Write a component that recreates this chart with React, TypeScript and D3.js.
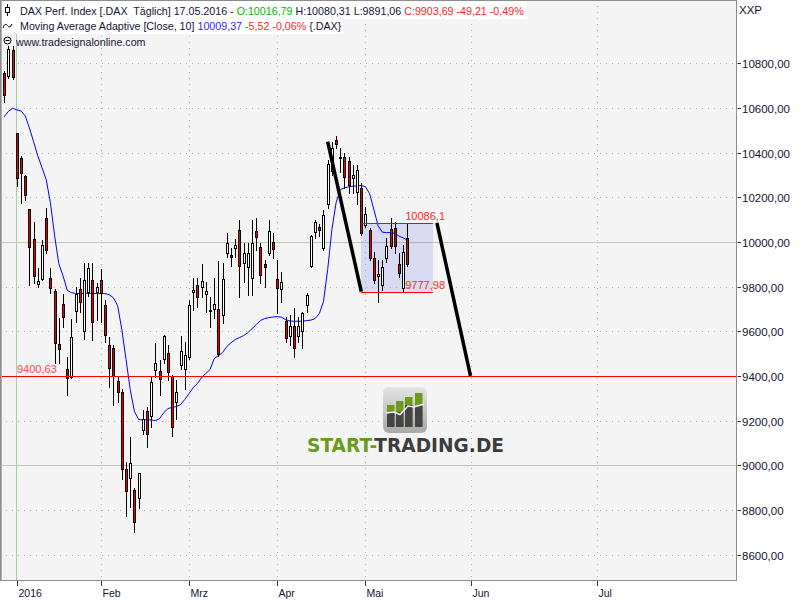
import React, { useEffect, useRef } from 'react'
import * as d3 from 'd3'

// Xetra trading days shown on the chart
const tradingDays = [
	'2015-12-28', '2015-12-29', '2015-12-30',
	'2016-01-04', '2016-01-05', '2016-01-06', '2016-01-07', '2016-01-08', '2016-01-11', '2016-01-12',
	'2016-01-13', '2016-01-14', '2016-01-15', '2016-01-18', '2016-01-19', '2016-01-20', '2016-01-21',
	'2016-01-22', '2016-01-25', '2016-01-26', '2016-01-27', '2016-01-28', '2016-01-29',
	'2016-02-01', '2016-02-02', '2016-02-03', '2016-02-04', '2016-02-05', '2016-02-08', '2016-02-09',
	'2016-02-10', '2016-02-11', '2016-02-12', '2016-02-15', '2016-02-16', '2016-02-17', '2016-02-18',
	'2016-02-19', '2016-02-22', '2016-02-23', '2016-02-24', '2016-02-25', '2016-02-26', '2016-02-29',
	'2016-03-01', '2016-03-02', '2016-03-03', '2016-03-04', '2016-03-07', '2016-03-08', '2016-03-09',
	'2016-03-10', '2016-03-11', '2016-03-14', '2016-03-15', '2016-03-16', '2016-03-17', '2016-03-18',
	'2016-03-21', '2016-03-22', '2016-03-23', '2016-03-24', '2016-03-29', '2016-03-30', '2016-03-31',
	'2016-04-01', '2016-04-04', '2016-04-05', '2016-04-06', '2016-04-07', '2016-04-08', '2016-04-11',
	'2016-04-12', '2016-04-13', '2016-04-14', '2016-04-15', '2016-04-18', '2016-04-19', '2016-04-20',
	'2016-04-21', '2016-04-22', '2016-04-25', '2016-04-26', '2016-04-27', '2016-04-28', '2016-04-29',
	'2016-05-02', '2016-05-03', '2016-05-04', '2016-05-05', '2016-05-06', '2016-05-09', '2016-05-10',
	'2016-05-11', '2016-05-12', '2016-05-13', '2016-05-17',
]

const opens = [
	10757, 10742, 10858,
	10488, 10376, 10294, 10148, 10015, 9812, 9836, 10108, 9840, 9782, 9545, 9723, 9433, 9397, 9690, 9790, 9600, 9776, 9830, 9775,
	9830, 9720, 9540, 9527, 9378, 9326, 8982, 8941, 8887, 8855, 9160, 9245, 9220, 9425, 9424, 9478, 9505, 9398, 9282, 9451, 9430,
	9483, 9777, 9808, 9800, 9768, 9697, 9702, 9700, 9674, 9950, 9940, 9975, 10055, 9907, 9889, 9838, 10050, 9978, 9903, 9952, 10001,
	9835, 9790, 9648, 9580, 9625, 9577, 9600, 9720, 9894, 10046, 10065, 9975, 10171, 10320, 10457, 10380, 10380, 10364, 10287, 10225, 10240,
	10078, 10055, 9930, 9849, 9808, 9930, 10060, 10064, 9903, 9796, 10016.79,
]
const highs = [
	10765, 10880, 10880,
	10488, 10386, 10300, 10150, 10090, 9885, 10010, 10153, 9885, 9790, 9660, 9765, 9487, 9657, 9800, 9840, 9905, 9907, 9905, 9818,
	9880, 9740, 9575, 9540, 9398, 9340, 9013, 9128, 8900, 8967, 9248, 9262, 9397, 9548, 9473, 9585, 9540, 9406, 9384, 9577, 9550,
	9742, 9840, 9840, 9902, 9822, 9755, 9840, 9917, 9907, 10041, 9973, 10015, 10100, 9997, 9997, 10100, 10108, 9997, 9920, 10100, 10041,
	9920, 9866, 9665, 9675, 9705, 9665, 9688, 9772, 10030, 10100, 10082, 10145, 10368, 10450, 10474, 10420, 10400, 10380, 10345, 10345, 10265,
	10157, 10064, 9957, 9920, 9920, 10019, 10108, 10090, 9952, 9987, 10080.31,
]
const lows = [
	10629, 10735, 10730,
	10249, 10175, 10189, 9809, 9818, 9800, 9830, 9950, 9770, 9460, 9460, 9620, 9315, 9390, 9640, 9685, 9565, 9760, 9560, 9650,
	9640, 9550, 9352, 9272, 9285, 8937, 8772, 8815, 8700, 8810, 9138, 9080, 9173, 9397, 9316, 9460, 9384, 9130, 9205, 9429, 9340,
	9475, 9697, 9710, 9755, 9688, 9620, 9661, 9490, 9638, 9934, 9894, 9934, 9755, 9822, 9764, 9764, 9965, 9817, 9800, 9943, 9930,
	9683, 9732, 9550, 9540, 9487, 9553, 9527, 9688, 9890, 10020, 10028, 9966, 10153, 10300, 10420, 10314, 10242, 10220, 10220, 10171, 10032,
	10068, 9920, 9818, 9733, 9786, 9912, 9975, 9952, 9845, 9774, 9891.06,
]
const closes = [
	10659, 10863, 10738,
	10287, 10311, 10212, 9979, 9849, 9825, 9985, 9965, 9795, 9549, 9522, 9665, 9393, 9575, 9765, 9733, 9830, 9884, 9640, 9800,
	9773, 9585, 9437, 9398, 9330, 8982, 8883, 9011, 8748, 8967, 9209, 9138, 9375, 9460, 9388, 9577, 9416, 9170, 9330, 9510, 9496,
	9720, 9783, 9755, 9826, 9782, 9690, 9723, 9500, 9836, 9997, 9931, 9988, 9894, 9951, 9952, 9996, 10024, 9853, 9889, 10050, 9970,
	9795, 9820, 9568, 9625, 9527, 9625, 9683, 9764, 10027, 10090, 10055, 10122, 10350, 10421, 10439, 10376, 10292, 10256, 10300, 10323, 10041,
	10127, 9930, 9831, 9858, 9890, 9983, 9980, 9980, 9863, 9953, 9903.69,
]

// Moving Average Adaptive [Close, 10]
const maValues = [
	10561, 10585, 10599, 10592, 10587, 10565, 10511, 10449, 10386, 10333,
	10279, 10176, 10028, 9903, 9849, 9784, 9773, 9770, 9770, 9770,
	9770, 9770, 9769, 9769, 9769, 9764, 9750, 9715, 9608, 9474,
	9339, 9241, 9205, 9203, 9203, 9203, 9200, 9209, 9236, 9254,
	9259, 9263, 9272, 9295, 9321, 9348, 9366, 9393, 9411, 9429,
	9478, 9491, 9505, 9532, 9549, 9563, 9572, 9581, 9594, 9612,
	9630, 9648, 9657, 9661, 9664, 9666, 9663, 9652, 9646, 9645,
	9645, 9645, 9648, 9650, 9657, 9679, 9733, 9876, 10055, 10176,
	10234, 10243, 10247, 10250, 10252, 10253, 10247, 10216, 10145, 10073,
	10044, 10042, 10042, 10039, 10026, 10018, 10009,
]

const priceTicks = [8600, 8800, 9000, 9200, 9400, 9600, 9800, 10000, 10200, 10400, 10600, 10800]
const solidPriceLines = [9000, 10000]
const monthLabels = ['2016', 'Feb', 'Mrz', 'Apr', 'Mai', 'Jun', 'Jul']
const monthDates = ['2016-01-04', '2016-02-01', '2016-03-01', '2016-04-01', '2016-05-02', '2016-06-01', '2016-07-01']

const supportLevel = 9400.63
const rangeHigh = 10086.1
const rangeLow = 9777.98
const rangeDates = ['2016-04-29', '2016-05-23']
const trendDown1Dates = ['2016-04-19', '2016-04-29']
const trendDown1Values = [10450, 9777.98]
const trendDown2Dates = ['2016-05-24', '2016-06-01']
const trendDown2Values = [10086.1, 9400.63]

const titleMain = 'DAX Perf. Index [.DAX  Täglich] 17.05.2016 - '
const titleOpen = 'O:10016,79'
const titleHighLow = ' H:10080,31 L:9891,06 '
const titleClose = 'C:9903,69 -49,21 -0,49%'
const maTitle = 'Moving Average Adaptive [Close, 10] '
const maLast = '10009,37'
const maChange = ' -5,52 -0,06%'
const maSymbol = ' {.DAX}'
const sourceText = 'www.tradesignalonline.com'

const FONT = '"Liberation Sans", Arial, sans-serif'

const dayMs = 86400000
const lastIdx = tradingDays.length - 1
const lastTime = Date.parse(tradingDays[lastIdx])
// trading days by position, future days by calendar
const dateIndex = (d: string) => {
	const i = tradingDays.indexOf(d)
	if (i >= 0) return i
	return lastIdx + Math.round((Date.parse(d) - lastTime) / dayMs)
}
const fmt = (v: number, digits: number) => v.toFixed(digits).replace('.', ',')

export default function App() {
	const ref = useRef<SVGSVGElement>(null)

	useEffect(() => {
		drawChart()
	}, [])

	const drawChart = () => {
		const width = 800
		const height = 600
		const plotRight = 736
		const plotBottom = 580

		const svg = d3.select(ref.current)
		svg.selectAll('*').remove()

		const x = d3.scaleLinear().domain([-1, 174.2]).range([0, plotRight])
		const y = d3.scaleLinear().domain([8486, 11084]).range([plotBottom, 0])
		const px = (v: number) => Math.round(v) + 0.5

		svg.append('rect').attr('width', width).attr('height', height).attr('fill', '#ffffff')
		svg.append('rect')
			.attr('x', 0).attr('y', 0)
			.attr('width', plotRight).attr('height', plotBottom)
			.attr('fill', '#f4f4f4')

		// dotted grid
		const grid = svg.append('g')
		grid.selectAll('line.h')
			.data(priceTicks.filter(t => !solidPriceLines.includes(t)))
			.enter().append('line')
			.attr('x1', 0).attr('x2', plotRight)
			.attr('y1', d => px(y(d))).attr('y2', d => px(y(d)))
			.attr('stroke', '#a6bca6').attr('stroke-dasharray', '1,5')
		grid.selectAll('line.v')
			.data(monthDates.slice(1))
			.enter().append('line')
			.attr('x1', d => px(x(dateIndex(d)))).attr('x2', d => px(x(dateIndex(d))))
			.attr('y1', 0).attr('y2', plotBottom)
			.attr('stroke', '#a6bca6').attr('stroke-dasharray', '1,5')

		// solid light green lines
		grid.selectAll('line.s')
			.data(solidPriceLines)
			.enter().append('line')
			.attr('x1', 0).attr('x2', plotRight)
			.attr('y1', d => px(y(d))).attr('y2', d => px(y(d)))
			.attr('stroke', '#b4cbb4')
		grid.append('line')
			.attr('x1', px(x(dateIndex(monthDates[0])) - 0.5)).attr('x2', px(x(dateIndex(monthDates[0])) - 0.5))
			.attr('y1', 0).attr('y2', plotBottom)
			.attr('stroke', '#aecaae')

		// range box
		const bx1 = x(dateIndex(rangeDates[0]))
		const bx2 = x(dateIndex(rangeDates[1]))
		svg.append('rect')
			.attr('x', Math.round(bx1)).attr('y', px(y(rangeHigh)))
			.attr('width', Math.round(bx2) - Math.round(bx1))
			.attr('height', px(y(rangeLow)) - px(y(rangeHigh)))
			.attr('fill', 'rgb(110,110,230)').attr('fill-opacity', 0.2)

		// moving average
		const maLine = d3.line<number>()
			.x((_, i) => x(i))
			.y(d => y(d))
		svg.append('path')
			.attr('d', maLine(maValues))
			.attr('fill', 'none')
			.attr('stroke', '#0000ff')
			.attr('stroke-width', 1)

		// candles
		const candles = svg.append('g')
		tradingDays.forEach((_, i) => {
			const cx = Math.round(x(i))
			const o = opens[i]
			const c = closes[i]
			candles.append('line')
				.attr('x1', cx + 0.5).attr('x2', cx + 0.5)
				.attr('y1', Math.round(y(highs[i]))).attr('y2', Math.round(y(lows[i])) + 1)
				.attr('stroke', '#000')
			const top = Math.round(y(Math.max(o, c))) + 0.5
			const bottom = Math.round(y(Math.min(o, c))) + 0.5
			candles.append('rect')
				.attr('x', cx - 0.5).attr('y', top)
				.attr('width', 2).attr('height', Math.max(1, bottom - top))
				.attr('fill', c < o ? '#f00000' : '#ffffff')
				.attr('stroke', '#000').attr('stroke-width', 1)
		})

		// support line
		svg.append('line')
			.attr('x1', 0).attr('x2', plotRight)
			.attr('y1', px(y(supportLevel))).attr('y2', px(y(supportLevel)))
			.attr('stroke', '#ff0000')
		svg.append('text')
			.attr('x', 17).attr('y', px(y(supportLevel)) - 4)
			.attr('font-family', FONT).attr('font-size', 11)
			.attr('fill', '#ff4848')
			.text(fmt(supportLevel, 2))

		// range lines and labels
		;[rangeHigh, rangeLow].forEach(v => {
			svg.append('line')
				.attr('x1', Math.round(bx1)).attr('x2', Math.round(bx2))
				.attr('y1', px(y(v))).attr('y2', px(y(v)))
				.attr('stroke', '#ff0000')
			svg.append('text')
				.attr('x', Math.round(bx2) + 12).attr('y', px(y(v)) - 4)
				.attr('text-anchor', 'end')
				.attr('font-family', FONT).attr('font-size', 11)
				.attr('fill', '#ff2a2a')
				.text(String(v).replace('.', ','))
		})

		// trend lines
		;[[trendDown1Dates, trendDown1Values], [trendDown2Dates, trendDown2Values]].forEach(([ds, vs]) => {
			svg.append('line')
				.attr('x1', x(dateIndex(ds[0] as string))).attr('y1', y(vs[0] as number))
				.attr('x2', x(dateIndex(ds[1] as string))).attr('y2', y(vs[1] as number))
				.attr('stroke', '#000').attr('stroke-width', 3.5)
		})

		// watermark logo
		const logo = svg.append('g').attr('transform', 'translate(383,387)')
		const defs = svg.append('defs')
		const grad = defs.append('linearGradient').attr('id', 'logoBg').attr('x1', 0).attr('y1', 0).attr('x2', 0).attr('y2', 1)
		grad.append('stop').attr('offset', '0%').attr('stop-color', '#e4e4e4')
		grad.append('stop').attr('offset', '100%').attr('stop-color', '#a9a9a9')
		logo.append('rect').attr('width', 44).attr('height', 46).attr('rx', 6).attr('fill', 'url(#logoBg)')
		const barX = [4, 13, 22, 32]
		const barTop = [18, 14, 10, 6]
		const barMid = [26, 25, 18, 19]
		barX.forEach((bx, i) => {
			logo.append('rect').attr('x', bx).attr('y', barTop[i]).attr('width', 7.5).attr('height', 40 - barTop[i]).attr('fill', '#6f9a1e')
			logo.append('rect').attr('x', bx).attr('y', barMid[i]).attr('width', 7.5).attr('height', 40 - barMid[i]).attr('fill', '#454545')
		})
		logo.append('path')
			.attr('d', 'M3,26 L11,25 L17,27.5 L25,19 L31,20 L41,17')
			.attr('fill', 'none').attr('stroke', '#f4f4f4').attr('stroke-width', 1.5)
		const logoText = svg.append('text')
			.attr('x', 307).attr('y', 452)
			.attr('font-family', '"DejaVu Sans", sans-serif').attr('font-weight', 'bold')
			.attr('font-size', 19.5)
			.attr('textLength', 197).attr('lengthAdjust', 'spacingAndGlyphs')
		logoText.append('tspan').attr('fill', '#6c9a1b').text('START-')
		logoText.append('tspan').attr('fill', '#3c3c3c').text('TRADING.DE')

		// header
		svg.append('rect').attr('x', 1).attr('y', 1).attr('width', 526).attr('height', 18).attr('fill', '#ffffff')
		svg.append('rect').attr('x', 1).attr('y', 19).attr('width', 342).attr('height', 15).attr('fill', '#ffffff')
		const head = svg.append('g').attr('font-family', FONT).attr('font-size', 10.7)
		const t1 = head.append('text').attr('x', 20).attr('y', 15).attr('fill', '#141432').attr('xml:space', 'preserve').style('white-space', 'pre')
		t1.append('tspan').text(titleMain)
		t1.append('tspan').attr('fill', '#00b400').text(titleOpen)
		t1.append('tspan').text(titleHighLow)
		t1.append('tspan').attr('fill', '#ff1e1e').text(titleClose)
		const t2 = head.append('text').attr('x', 20).attr('y', 30).attr('fill', '#141432').style('white-space', 'pre')
		t2.append('tspan').text(maTitle)
		t2.append('tspan').attr('fill', '#2a2aff').text(maLast)
		t2.append('tspan').attr('fill', '#ff1e1e').text(maChange)
		t2.append('tspan').text(maSymbol)
		head.append('text').attr('x', 16).attr('y', 46).attr('fill', '#141432').text(sourceText)

		// header icons
		const ic = svg.append('g').attr('stroke', '#000').attr('fill', 'none')
		ic.append('line').attr('x1', 7.5).attr('x2', 7.5).attr('y1', 4).attr('y2', 16)
		ic.append('rect').attr('x', 5.5).attr('y', 7.5).attr('width', 4).attr('height', 5).attr('fill', '#fff')
		ic.append('path').attr('d', 'M3,28 Q5,22 7.5,25.5 T12,24')
		ic.append('circle').attr('cx', 7.5).attr('cy', 40.5).attr('r', 3.5)
		ic.append('line').attr('x1', 5.5).attr('x2', 9.5).attr('y1', 40.5).attr('y2', 40.5)

		// plot border
		svg.append('rect')
			.attr('x', 0.5).attr('y', 0.5)
			.attr('width', plotRight).attr('height', plotBottom)
			.attr('fill', 'none').attr('stroke', '#8c8c8c')
		svg.append('line').attr('x1', 1.5).attr('x2', 1.5).attr('y1', 0).attr('y2', plotBottom).attr('stroke', '#b0b0b0')

		// right price axis
		const ra = svg.append('g').attr('font-family', FONT).attr('font-size', 11.5)
		ra.append('text').attr('x', 739).attr('y', 14).attr('fill', '#141432').text('XXP')
		priceTicks.forEach(t => {
			ra.append('line')
				.attr('x1', plotRight + 1.5).attr('x2', plotRight + 5)
				.attr('y1', px(y(t))).attr('y2', px(y(t)))
				.attr('stroke', '#303030')
			ra.append('text')
				.attr('x', plotRight + 6).attr('y', px(y(t)))
				.attr('dy', '0.35em')
				.attr('fill', '#141432')
				.text(fmt(t, 2))
		})

		// bottom date axis
		const ba = svg.append('g').attr('font-family', FONT).attr('font-size', 10.5)
		monthDates.forEach((d, i) => {
			const mx = px(x(dateIndex(d)))
			ba.append('line')
				.attr('x1', mx).attr('x2', mx)
				.attr('y1', plotBottom + 1).attr('y2', plotBottom + 6)
				.attr('stroke', '#303030')
			ba.append('text')
				.attr('x', mx + 1).attr('y', 597)
				.attr('fill', '#141432')
				.text(monthLabels[i])
		})
	}

	return (
		<svg ref={ref} width={800} height={600}
			style={{ position: 'absolute', left: 0, top: 0, display: 'block' }} />
	)
}
